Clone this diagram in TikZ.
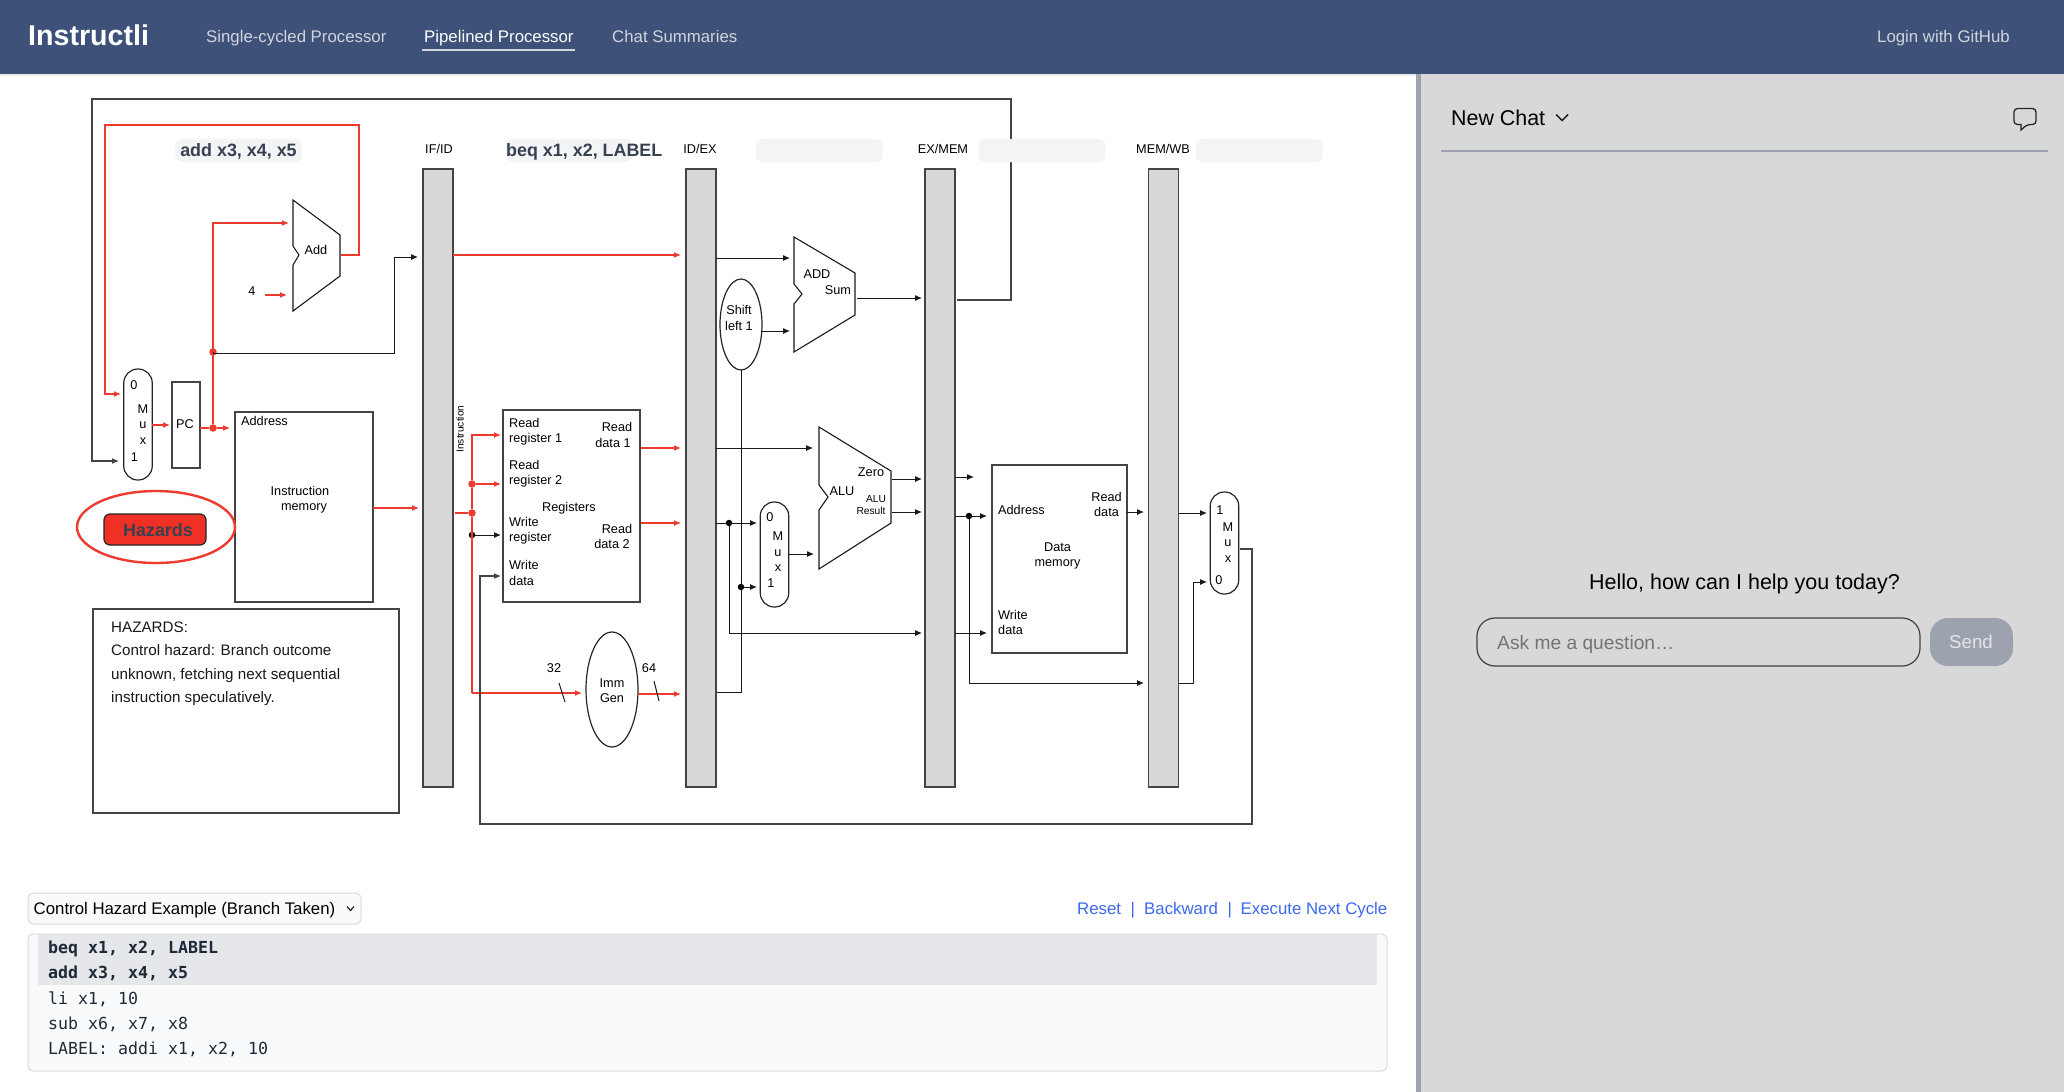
\documentclass[tikz,border=0pt]{standalone}
\usepackage{fontspec}
\setmainfont{Liberation Sans}
\setmonofont{DejaVu Sans Mono}
\usetikzlibrary{shapes, arrows, positioning, calc, arrows.meta}

\definecolor{topbar}{HTML}{3D5179}
\definecolor{panelgrey}{HTML}{D8D8D8}
\definecolor{splitgrey}{HTML}{9CA3AF}
\definecolor{hotred}{HTML}{EE3B2F}
\definecolor{btnred}{HTML}{EE3124}
\definecolor{slate}{HTML}{374151}
\definecolor{chipgrey}{HTML}{F3F4F6}
\definecolor{linkblue}{HTML}{3B68EE}
\definecolor{navtext}{HTML}{D1D5DB}
\definecolor{boxline}{HTML}{444444}
\definecolor{inkdark}{HTML}{1F2937}
\definecolor{hilite}{HTML}{E5E7EB}
\definecolor{codefill}{HTML}{F9FAFB}

\tikzset{
  lbl/.style={font=\fontsize{12.7}{15.5}\selectfont, inner sep=0pt, align=center, yshift=-1pt},
  lblleft/.style={lbl, align=left, anchor=west},
  lbltiny/.style={font=\fontsize{10.2}{12.3}\selectfont, inner sep=0pt, align=center},
  nav/.style={font=\fontsize{16.8}{20}\selectfont, inner sep=0pt, text=navtext},
  ui/.style={font=\fontsize{16.8}{20}\selectfont, inner sep=0pt},
  link/.style={ui, text=linkblue, anchor=base west},
  chiptext/.style={font=\bfseries\fontsize{17.9}{20}\selectfont, inner sep=0pt, text=slate, anchor=base},
  codeline/.style={font=\ttfamily\fontsize{16.6}{20}\selectfont, inner sep=0pt, anchor=base west, text=inkdark},
  codebold/.style={codeline, font=\ttfamily\bfseries\fontsize{16.6}{20}\selectfont},
  box/.style={draw=boxline, line width=1.2pt, fill=white, inner sep=0pt, outer sep=0pt},
  pipereg/.style={box, fill=panelgrey, minimum width=30pt, minimum height=618pt},
  mux/.style={box, draw=black!85, rounded corners=14pt, minimum width=28.5pt},
  oval/.style={box, draw=black!85, ellipse},
  chip/.style={fill=chipgrey, rounded corners=7pt, minimum width=127pt, minimum height=23pt, inner sep=0pt},
  wire/.style={draw=black!90, line width=1pt, -{Latex[length=7pt,width=6pt]}},
  hotwire/.style={draw=hotred, line width=1.2pt, -{Latex[length=7pt,width=6pt]}},
  plain/.style={draw=black!90, line width=1pt},
  hotplain/.style={draw=hotred, line width=1.2pt},
  dot/.style={circle, fill=black, inner sep=0pt, minimum size=6.5pt},
  hotdot/.style={circle, fill=hotred, inner sep=0pt, minimum size=7.5pt},
  adder/.style={draw=black!90, line width=1.1pt, fill=white}
}

\begin{document}
\begin{tikzpicture}[x=1pt, y=-1pt]
  \useasboundingbox (0,0) rectangle (2064,1092);

  \fill[panelgrey] (1421,74) rectangle (2064,1092);
  \fill[splitgrey] (1416,74) rectangle (1421,1092);
  \fill[black!8] (0,74) rectangle (1416,75.5);
  \fill[topbar] (0,0) rectangle (2064,74);

  \node[font=\bfseries\fontsize{28.6}{30}\selectfont, inner sep=0pt, text=white, anchor=base west] (brand) at (28,45.7) {Instructli};
  \node[nav, anchor=base west] (navSingle) at (206,42) {Single-cycled Processor};
  \node[nav, anchor=base west, text=white] (navPipe) at (424,42) {Pipelined Processor};
  \node[nav, anchor=base west] (navChat) at (612,42) {Chat Summaries};
  \node[nav, anchor=base east] (navLogin) at (2010,42) {Login with GitHub};
  \coordinate (ulA) at (422,49.5);
  \coordinate (ulB) at (575,49.5);
  \draw[navtext, line width=2pt] (ulA) -- (ulB);

  \node[lbl] (lblIfid) at (439,148) {IF/ID};
  \node[lbl] (lblIdex) at (700,148) {ID/EX};
  \node[lbl] (lblExmem) at (943,148) {EX/MEM};
  \node[lbl] (lblMemwb) at (1163,148) {MEM/WB};

  \node[pipereg] (ifid) at (438,478) {};
  \node[pipereg] (idex) at (701,478) {};
  \node[pipereg] (exmem) at (940,478) {};
  \node[pipereg] (memwb) at (1163.5,478) {};

  \node[box, minimum width=28pt, minimum height=86pt] (pc) at (186,425) {};
  \node[lbl] (lblPc) at (185,423) {PC};
  \node[box, minimum width=138pt, minimum height=190pt] (imem) at (304,507) {};
  \node[lblleft] (lblImAddr) at (241,420) {Address};
  \node[lbl] (lblImem) at (300,498.5) {Instruction\\\hspace*{8pt}memory};
  \node[box, minimum width=137pt, minimum height=192pt] (regs) at (571.5,506) {};
  \node[lblleft] (lblRr1) at (509,430.5) {Read\\register 1};
  \node[lblleft] (lblRr2) at (509,472.5) {Read\\register 2};
  \node[lblleft] (lblWr) at (509,529.5) {Write\\register};
  \node[lblleft] (lblWd) at (509,572) {Write\\data};
  \node[lbl] (lblRegs) at (569,507) {Registers};
  \node[lbl] (lblRd1) at (613,434) {\hspace*{8pt}Read\\data 1};
  \node[lbl] (lblRd2) at (612,535.5) {\hspace*{10pt}Read\\data 2};
  \node[box, minimum width=135pt, minimum height=188pt] (dmem) at (1059.5,559) {};
  \node[lblleft] (lblDmAddr) at (998,509) {Address};
  \node[lbl] (lblDmRd) at (1106.5,503.5) {Read\\data};
  \node[lbl] (lblDmem) at (1057.5,555) {Data\\memory};
  \node[lblleft] (lblDmWd) at (998,621.5) {Write\\data};

  \node[mux, minimum height=111pt] (muxPc) at (138,424.5) {};
  \node[lbl] (lblM1a) at (134,384) {0};
  \node[lbl] (lblM1b) at (143,423.5) {M\\u\\x};
  \node[lbl] (lblM1c) at (134.5,456) {1};
  \node[mux, minimum height=105pt] (muxAlu) at (774.5,554.5) {};
  \node[lbl] (lblM2a) at (770,516) {0};
  \node[lbl] (lblM2b) at (778,551) {M\\u\\x};
  \node[lbl] (lblM2c) at (771,582) {1};
  \node[mux, minimum height=102pt] (muxWb) at (1224.5,543) {};
  \node[lbl] (lblM3a) at (1220,509) {1};
  \node[lbl] (lblM3b) at (1228,541.5) {M\\u\\x};
  \node[lbl] (lblM3c) at (1219,579) {0};

  \node[oval, minimum width=42pt, minimum height=91pt] (shiftl) at (741,324.5) {};
  \node[lbl] (lblShift) at (739,317) {Shift\\left 1};
  \node[oval, minimum width=52pt, minimum height=115pt] (immgen) at (612,689.5) {};
  \node[lbl] (lblImm) at (612,689.5) {Imm\\Gen};

  \draw[adder] (293,200) coordinate (addA) -- (340,235) -- (340,276) -- (293,311) -- (293,265) -- (299,255) -- (293,246) -- cycle;
  \node[lbl] (lblAdd) at (316,249) {Add};
  \draw[adder] (794,237) coordinate (addB) -- (855,273) -- (855,315) -- (794,352) -- (794,304) -- (802,294) -- (794,284) -- cycle;
  \node[lbl] (lblAddB) at (817,273.5) {ADD};
  \node[lbl] (lblSum) at (838,289) {Sum};
  \draw[adder] (819,427) coordinate (aluA) -- (891,471) -- (891,523) -- (819,569) -- (819,510) -- (828,497) -- (819,485) -- cycle;
  \node[lbl] (lblZero) at (871,471.5) {Zero};
  \node[lbl] (lblAlu) at (842,490) {ALU};
  \node[lbltiny] (lblAluRes) at (871,505) {\hspace*{10pt}ALU\\Result};

  \coordinate (exmemOut) at (957,300);
  \coordinate (frameTR) at (1011,99);
  \coordinate (frameTL) at (92,99);
  \coordinate (muxPcIn1) at (119,461);
  \draw[wire, draw=boxline, line width=1.1pt] (exmemOut) -| (frameTR) -- (frameTL) |- (muxPcIn1);

  \coordinate (addOut) at (341,255);
  \coordinate (loopTR) at (359,125);
  \coordinate (loopTL) at (105,125);
  \coordinate (muxPcIn0) at (121,394);
  \draw[hotwire] (addOut) -| (loopTR) -- (loopTL) |- (muxPcIn0);

  \coordinate (pcIn) at (170,425);
  \draw[hotwire] (muxPc.east |- pcIn) -- (pcIn);
  \node[hotdot] (jPc) at (213,428) {};
  \node[hotdot] (jPc2) at (213,352) {};
  \coordinate (imemIn) at (230,428);
  \coordinate (addInA) at (289,223);
  \draw[hotplain] (pc.east |- jPc) -- (jPc);
  \draw[hotwire] (jPc) -- (imemIn);
  \draw[hotwire] (jPc) -- (jPc2.center) |- (addInA);
  \coordinate (four) at (265,295);
  \coordinate (addInB) at (287,295);
  \draw[hotwire] (four) -- (addInB);
  \node[lbl] (lblFour) at (252,290) {4};
  \coordinate (ifidInA) at (418,257);
  \coordinate (pcKnee) at (394,353);
  \draw[wire] (jPc2.center) |- (pcKnee) |- (ifidInA);

  \coordinate (ifidIn) at (419,508);
  \draw[hotwire] (imem.east |- ifidIn) -- (ifidIn);

  \coordinate (idexInA) at (681,255);
  \draw[hotwire] (ifid.east |- idexInA) -- (idexInA);

  \node[rotate=90, lbltiny] (lblInstr) at (460,429) {Instruction};
  \node[hotdot] (jR2) at (472,484) {};
  \node[hotdot] (jFeed) at (472,513) {};
  \node[dot] (jWr) at (472,535) {};
  \coordinate (rr1In) at (501,435);
  \coordinate (rr2In) at (501,484);
  \coordinate (wrIn) at (501,535);
  \coordinate (feedIn) at (455,513);
  \coordinate (immIn) at (582,693);
  \coordinate (trunkLow) at (472,693);
  \draw[hotplain] (feedIn) -- (jFeed);
  \draw[hotwire] (jR2) |- (rr1In);
  \draw[hotwire] (jR2) -- (rr2In);
  \draw[hotplain] (jR2) -- (jFeed) -- (jWr.center) -- (trunkLow);
  \draw[hotwire] (trunkLow) -- (immIn);
  \draw[wire] (jWr) -- (wrIn);

  \coordinate (slashA) at (559,683);
  \coordinate (slashB) at (565,702);
  \draw[plain] (slashA) -- (slashB);
  \node[lbl] (lbl32) at (554,667) {32};
  \coordinate (idexInB) at (681,694);
  \draw[hotwire] (immgen.east |- idexInB) -- (idexInB);
  \coordinate (slashC) at (654,681);
  \coordinate (slashD) at (659,701);
  \draw[plain] (slashC) -- (slashD);
  \node[lbl] (lbl64) at (649,667) {64};

  \coordinate (rd1Out) at (641,448);
  \coordinate (rd2Out) at (641,523);
  \coordinate (idexRd1) at (681,448);
  \coordinate (idexRd2) at (681,523);
  \draw[hotwire] (rd1Out) -- (idexRd1);
  \draw[hotwire] (rd2Out) -- (idexRd2);

  \coordinate (addBIn) at (790,258);
  \draw[wire] (idex.east |- addBIn) -- (addBIn);
  \coordinate (addBIn2) at (790,331);
  \draw[wire] (shiftl.east |- addBIn2) -- (addBIn2);
  \coordinate (addBOut) at (857,298);
  \coordinate (exmemInA) at (922,298);
  \draw[wire] (addBOut) -- (exmemInA);
  \coordinate (aluIn) at (813,448);
  \draw[wire] (idex.east |- aluIn) -- (aluIn);

  \node[dot] (jRd2) at (729,523) {};
  \coordinate (muxAluIn0) at (757,523);
  \coordinate (exmemInC) at (922,633);
  \draw[wire] (idex.east |- jRd2) -- (muxAluIn0);
  \draw[wire] (jRd2) |- (exmemInC);
  \node[dot] (jImm) at (741,587) {};
  \coordinate (muxAluIn1) at (757,587);
  \coordinate (immOut) at (717,692);
  \draw[wire] (jImm) -- (muxAluIn1);
  \draw[plain] (immOut) -| (shiftl.south);
  \coordinate (muxAluOut) at (814,554);
  \draw[wire] (muxAlu.east |- muxAluOut) -- (muxAluOut);

  \coordinate (zeroOut) at (892,479);
  \coordinate (zeroIn) at (922,479);
  \coordinate (resOut) at (892,512);
  \coordinate (resIn) at (922,512);
  \draw[wire] (zeroOut) -- (zeroIn);
  \draw[wire] (resOut) -- (resIn);

  \coordinate (exmemZero) at (974,477);
  \draw[wire] (exmem.east |- exmemZero) -- (exmemZero);
  \node[dot] (jRes) at (969,516) {};
  \coordinate (dmAddrIn) at (987,516);
  \coordinate (memwbBy) at (1144,683);
  \draw[wire] (exmem.east |- jRes) -- (dmAddrIn);
  \draw[wire] (jRes) |- (memwbBy);
  \coordinate (dmWdIn) at (987,633);
  \draw[wire] (exmem.east |- dmWdIn) -- (dmWdIn);

  \coordinate (memwbIn) at (1144,512);
  \draw[wire] (dmem.east |- memwbIn) -- (memwbIn);
  \coordinate (muxWbIn1) at (1207,513);
  \draw[wire] (memwb.east |- muxWbIn1) -- (muxWbIn1);
  \coordinate (wbKnee) at (1193,683);
  \coordinate (muxWbIn0) at (1207,582);
  \draw[wire] (memwb.east |- wbKnee) -- (wbKnee) |- (muxWbIn0);

  \coordinate (wbOut) at (1240,549);
  \coordinate (wbBR) at (1252,824);
  \coordinate (wbBL) at (480,824);
  \coordinate (wdIn) at (501,576);
  \draw[wire, draw=boxline, line width=1.1pt] (wbOut) -| (wbBR) -- (wbBL) |- (wdIn);

  \node[chip] (chipAdd) at (238.5,150.5) {};
  \node[chiptext] (txtAdd) at (238.5,156) {add x3, x4, x5};
  \node[chip] (chipBeq) at (569.5,150.5) {};
  \node[chiptext, anchor=base west] (txtBeq) at (506,156) {beq x1, x2, LABEL};
  \node[chip] (chipEx) at (819,150.5) {};
  \node[chip] (chipMem) at (1042,150.5) {};
  \node[chip] (chipWb) at (1259,150.5) {};

  \node[oval, draw=hotred, line width=2.4pt, minimum width=158pt, minimum height=72pt] (ring) at (156,527) {};
  \node[draw=black!85, line width=1.2pt, fill=btnred, rounded corners=6pt, minimum width=102pt, minimum height=31pt, inner sep=0pt] (btnHazards) at (155,529.5) {};
  \node[chiptext] (txtHazards) at (158,536.5) {Hazards};

  \node[box, minimum width=306pt, minimum height=204pt] (hazardBox) at (246,711) {};
  \node[font=\fontsize{15.2}{23.1}\selectfont, inner sep=0pt, align=left, anchor=north west, text=black!90] (hazardTxt) at (111,622) {HAZARDS:\\Control hazard: Branch outcome\\unknown, fetching next sequential\\instruction speculatively.};

  \node[draw=black!15, line width=1pt, fill=codefill, rounded corners=5pt, minimum width=333pt, minimum height=31pt, inner sep=0pt] (selectBox) at (194.5,908.5) {};
  \node[ui, anchor=base west] (selectTxt) at (33.5,914.5) {Control Hazard Example (Branch Taken)};
  \coordinate (selA) at (347,906.5);
  \coordinate (selB) at (350.5,910.5);
  \coordinate (selC) at (354,906.5);
  \draw[black!85, line width=1.2pt] (selA) -- (selB) -- (selC);

  \node[link] (lnkReset) at (1077,914.5) {Reset};
  \node[link] (lnkSepA) at (1130.5,914.5) {|};
  \node[link] (lnkBack) at (1144,914.5) {Backward};
  \node[link] (lnkSepB) at (1227.5,914.5) {|};
  \node[link, anchor=base east] (lnkNext) at (1387.5,914.5) {Execute Next Cycle};

  \node[draw=black!15, line width=1pt, fill=codefill, rounded corners=5pt, minimum width=1359pt, minimum height=137pt, inner sep=0pt] (codeBox) at (707.5,1002.5) {};
  \fill[hilite] (38,935) rectangle (1377,985);
  \node[codebold] (code1) at (48,953.5) {beq x1, x2, LABEL};
  \node[codebold] (code2) at (48,978.5) {add x3, x4, x5};
  \node[codeline] (code3) at (48,1004) {li x1, 10};
  \node[codeline] (code4) at (48,1029) {sub x6, x7, x8};
  \node[codeline] (code5) at (48,1054) {LABEL: addi x1, x2, 10};

  \node[inner sep=0pt, font=\fontsize{21.4}{24}\selectfont, anchor=base west] (chatTitle) at (1451,125) {New Chat};
  \coordinate (chevA) at (1556,114.5);
  \coordinate (chevB) at (1562,120.5);
  \coordinate (chevC) at (1568,114.5);
  \draw[black!90, line width=1.4pt] (chevA) -- (chevB) -- (chevC);
  \draw[black!85, line width=1.3pt, rounded corners=3.5pt] (2014,108.5) -- (2036,108.5) -- (2036,124.5) -- (2027,124.5) [sharp corners] -- (2021,130) -- (2021,124.5) [rounded corners=3.5pt] -- (2014,124.5) -- cycle;
  \coordinate (hrA) at (1441,151);
  \coordinate (hrB) at (2048,151);
  \draw[splitgrey, line width=1.4pt] (hrA) -- (hrB);

  \node[inner sep=0pt, font=\fontsize{21.5}{24}\selectfont, anchor=base] (hello) at (1744.5,589.5) {Hello, how can I help you today?};
  \node[draw=black!75, line width=1.2pt, rounded corners=18pt, minimum width=443pt, minimum height=48pt, inner sep=0pt] (askBox) at (1698.5,642) {};
  \node[inner sep=0pt, font=\fontsize{19.2}{22}\selectfont, anchor=base west, text=black!55] (askTxt) at (1497,649) {Ask me a question…};
  \node[fill=splitgrey, rounded corners=18pt, minimum width=83pt, minimum height=48pt, inner sep=0pt] (sendBtn) at (1971.5,642) {};
  \node[inner sep=0pt, font=\fontsize{18.7}{22}\selectfont, anchor=base, text=black!10] (sendTxt) at (1971,648.5) {Send};
\end{tikzpicture}
\end{document}
